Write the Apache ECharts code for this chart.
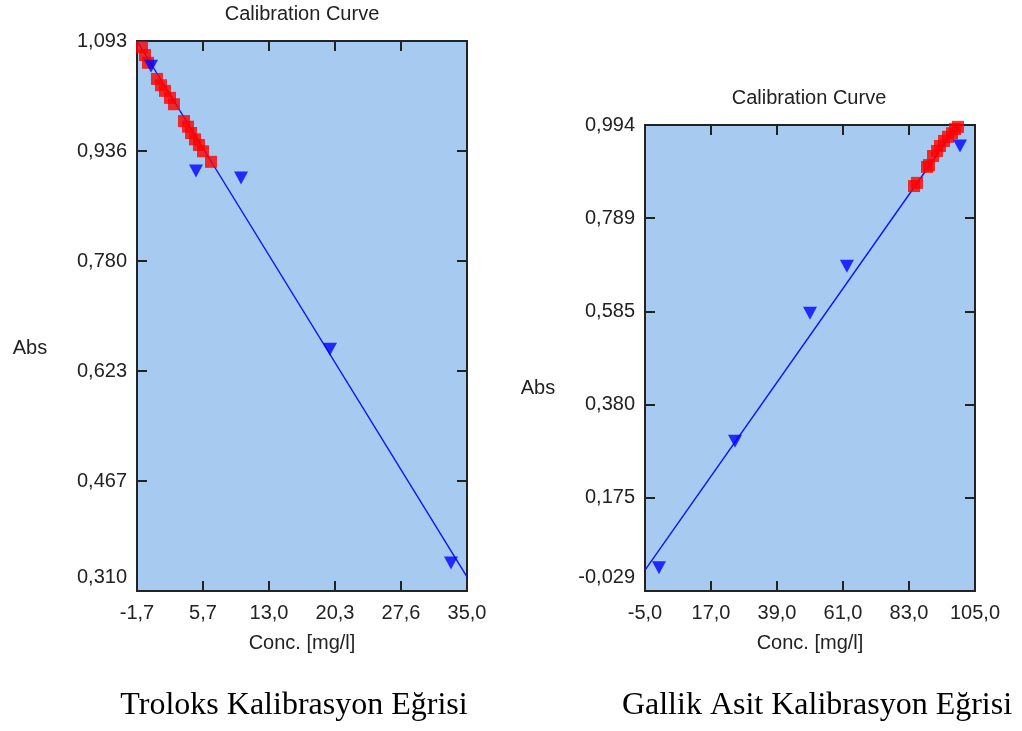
<!DOCTYPE html>
<html>
<head>
<meta charset="utf-8">
<script src="https://cdn.jsdelivr.net/npm/echarts@6/dist/echarts.min.js"></script>
<style>
  html, body { margin: 0; padding: 0; background: #ffffff; }
  #chart { width: 1022px; height: 731px; }
</style>
</head>
<body>
<div id="chart"></div>
<script>
// ---------- Troloks (left) ----------
const trolSamplesX = [-1.14, -0.81, -0.48, 0.52, 0.97, 1.41, 1.97, 2.41, 3.53, 3.97, 4.31, 4.75, 5.19, 5.64, 6.53];
const trolSamplesY = [1.084, 1.073, 1.062, 1.039, 1.030, 1.022, 1.012, 1.003, 0.979, 0.971, 0.962, 0.953, 0.945, 0.936, 0.921];
const trolStdX = [-0.14, 4.86, 9.87, 19.76, 33.22];
const trolStdY = [1.057, 0.908, 0.898, 0.654, 0.350];
const trolFitX = [-1.7, 35.0];
const trolFitY = [1.093, 0.330];
const trolXTicks = [-1.7, 5.64, 12.98, 20.32, 27.66, 35.0];
const trolXLabels = ['-1,7', '5,7', '13,0', '20,3', '27,6', '35,0'];
const trolYTicks = [0.310, 0.4666, 0.6232, 0.7798, 0.9364, 1.093];
const trolYLabels = ['0,310', '0,467', '0,623', '0,780', '0,936', '1,093'];

// ---------- Gallik Asit (right) ----------
const galSamplesX = [84.67, 85.67, 89.0, 89.67, 91.0, 92.33, 93.33, 94.67, 96.0, 97.33, 98.33, 99.33];
const galSamplesY = [0.860, 0.867, 0.902, 0.906, 0.926, 0.937, 0.948, 0.959, 0.968, 0.976, 0.985, 0.990];
const galStdX = [-0.33, 25.0, 50.0, 62.3, 100.0];
const galStdY = [0.022, 0.300, 0.581, 0.684, 0.948];
const galFitX = [-5.0, 99.3];
const galFitY = [0.017, 0.994];
const galXTicks = [-5, 17, 39, 61, 83, 105];
const galXLabels = ['-5,0', '17,0', '39,0', '61,0', '83,0', '105,0'];
const galYTicks = [-0.029, 0.1756, 0.3802, 0.5848, 0.7894, 0.994];
const galYLabels = ['-0,029', '0,175', '0,380', '0,585', '0,789', '0,994'];

const titleText = 'Calibration Curve';
const xName = 'Conc. [mg/l]';
const yName = 'Abs';
const captionLeft = 'Troloks Kalibrasyon Eğrisi';
const captionRight = 'Gallik Asit Kalibrasyon Eğrisi';

// ---------- helpers ----------
const FONT = '"Liberation Sans", Arial, sans-serif';
const TXT = '#222222';
const pairs = (xs, ys) => xs.map((x, i) => [x, ys[i]]);
const labelFmt = (ticks, labels, lowFirst) => function (v) {
  let idx = -1;
  for (let i = 0; i < ticks.length; i++) if (Math.abs(ticks[i] - v) < 1e-6) idx = i;
  if (idx < 0) return '';
  if (lowFirst && idx === 0) return '{low|' + labels[idx] + '}';
  return labels[idx];
};
const tickStyle = { inside: true, length: 10, lineStyle: { color: TXT, width: 2 } };
const noLine = { show: false, onZero: false };

function xAxes(grid, mn, mx, ticks, labels) {
  return [
    {
      gridIndex: grid, type: 'value', min: mn, max: mx, position: 'bottom',
      axisLine: noLine, splitLine: { show: false },
      axisTick: Object.assign({ customValues: ticks }, tickStyle),
      axisLabel: { customValues: ticks, formatter: labelFmt(ticks, labels, false),
        fontSize: 20, fontFamily: FONT, color: TXT, margin: 12 },
      name: xName, nameLocation: 'middle', nameGap: 42,
      nameTextStyle: { fontSize: 20, fontFamily: FONT, color: TXT }
    },
    {
      gridIndex: grid, type: 'value', min: mn, max: mx, position: 'top',
      axisLine: noLine, splitLine: { show: false },
      axisTick: Object.assign({ customValues: ticks }, tickStyle),
      axisLabel: { show: false }
    }
  ];
}
function yAxes(grid, mn, mx, ticks, labels) {
  return [
    {
      gridIndex: grid, type: 'value', min: mn, max: mx, position: 'left',
      axisLine: noLine, splitLine: { show: false },
      axisTick: Object.assign({ customValues: ticks }, tickStyle),
      axisLabel: { customValues: ticks, formatter: labelFmt(ticks, labels, true),
        fontSize: 20, fontFamily: FONT, color: TXT, margin: 10,
        rich: { low: { fontSize: 20, fontFamily: FONT, color: TXT, padding: [0, 0, 28, 0] } } }
    },
    {
      gridIndex: grid, type: 'value', min: mn, max: mx, position: 'right',
      axisLine: noLine, splitLine: { show: false },
      axisTick: Object.assign({ customValues: ticks }, tickStyle),
      axisLabel: { show: false }
    }
  ];
}
function seriesFor(xi, yi, fitX, fitY, sx, sy, tx, ty) {
  return [
    { type: 'line', xAxisIndex: xi, yAxisIndex: yi, data: pairs(fitX, fitY),
      showSymbol: false, symbol: 'none', lineStyle: { color: '#1010ff', width: 1.4 },
      silent: true, z: 2 },
    { type: 'scatter', xAxisIndex: xi, yAxisIndex: yi, data: pairs(sx, sy),
      symbol: 'rect', symbolSize: 12, itemStyle: { color: '#ff0000' }, z: 3 },
    { type: 'scatter', xAxisIndex: xi, yAxisIndex: yi, data: pairs(tx, ty),
      symbol: 'triangle', symbolRotate: 180, symbolSize: [14, 13],
      itemStyle: { color: '#0000ff' }, z: 4 }
  ];
}

const gridStyle = { show: true, backgroundColor: '#A6CAF0', borderColor: TXT, borderWidth: 2 };

const chart = echarts.init(document.getElementById('chart'), null, { renderer: 'canvas' });
chart.setOption({
  animation: false,
  backgroundColor: '#ffffff',
  grid: [
    Object.assign({ left: 137, top: 41, width: 330, height: 550 }, gridStyle),
    Object.assign({ left: 645, top: 125, width: 330, height: 466 }, gridStyle)
  ],
  xAxis: [].concat(
    xAxes(0, -1.7, 35.0, trolXTicks, trolXLabels),
    xAxes(1, -5, 105, galXTicks, galXLabels)
  ),
  yAxis: [].concat(
    yAxes(0, 0.310, 1.093, trolYTicks, trolYLabels),
    yAxes(1, -0.029, 0.994, galYTicks, galYLabels)
  ),
  series: [].concat(
    seriesFor(0, 0, trolFitX, trolFitY, trolSamplesX, trolSamplesY, trolStdX, trolStdY),
    seriesFor(2, 2, galFitX, galFitY, galSamplesX, galSamplesY, galStdX, galStdY)
  ),
  graphic: [
    { type: 'text', x: 302, y: 14, style: { text: titleText, font: '20px ' + FONT, fill: TXT, align: 'center', verticalAlign: 'middle' } },
    { type: 'text', x: 809, y: 98, style: { text: titleText, font: '20px ' + FONT, fill: TXT, align: 'center', verticalAlign: 'middle' } },
    { type: 'text', x: 30, y: 348, style: { text: yName, font: '20px ' + FONT, fill: TXT, align: 'center', verticalAlign: 'middle' } },
    { type: 'text', x: 538, y: 388, style: { text: yName, font: '20px ' + FONT, fill: TXT, align: 'center', verticalAlign: 'middle' } },
    { type: 'text', x: 294, y: 706, style: { text: captionLeft, font: '32px "Liberation Serif", "Times New Roman", serif', fill: '#000', align: 'center', verticalAlign: 'middle' } },
    { type: 'text', x: 817, y: 706, style: { text: captionRight, font: '32px "Liberation Serif", "Times New Roman", serif', fill: '#000', align: 'center', verticalAlign: 'middle' } }
  ]
});
</script>
</body>
</html>
